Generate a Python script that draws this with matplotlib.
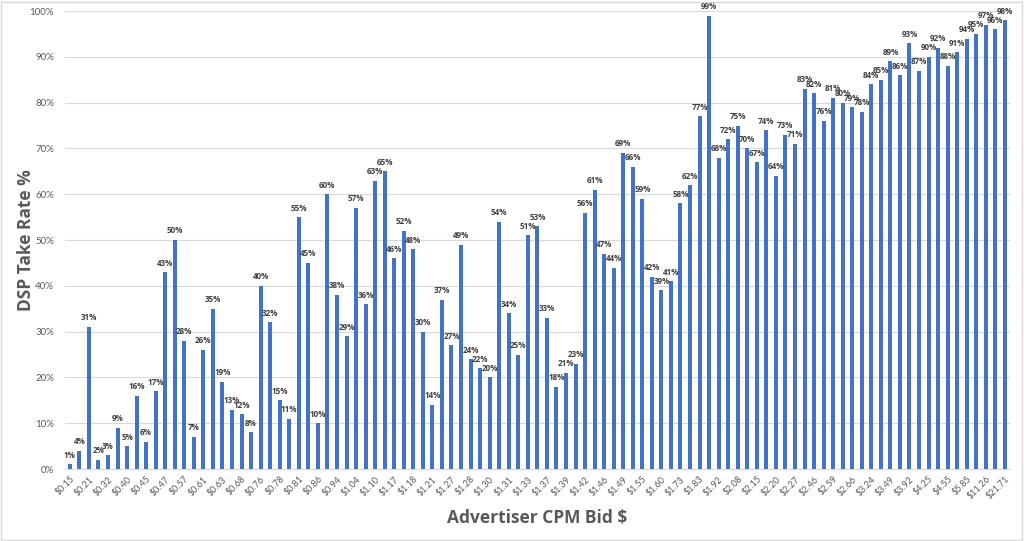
import matplotlib
matplotlib.use("Agg")
import matplotlib.pyplot as plt
from matplotlib.patches import Rectangle

# DSP take rate (%) for each bid bucket, left to right
take_rate = [1, 4, 31, 2, 3, 9, 5, 16, 6, 17, 43, 50, 28, 7, 26, 35, 19, 13, 12, 8,
             40, 32, 15, 11, 55, 45, 10, 60, 38, 29, 57, 36, 63, 65, 46, 52, 48, 30, 14, 37,
             27, 49, 24, 22, 20, 54, 34, 25, 51, 53, 33, 18, 21, 23, 56, 61, 47, 44, 69, 66,
             59, 42, 39, 41, 58, 62, 77, 99, 68, 72, 75, 70, 67, 74, 64, 73, 71, 83, 82, 76,
             81, 80, 79, 78, 84, 85, 89, 86, 93, 87, 90, 92, 88, 91, 94, 95, 97, 96, 98]

# only every other bid is labelled on the axis
bid_labels = ["$0.15", "$0.21", "$0.32", "$0.40", "$0.45", "$0.47", "$0.57", "$0.61", "$0.63", "$0.68",
              "$0.76", "$0.78", "$0.81", "$0.86", "$0.94", "$1.04", "$1.10", "$1.17", "$1.18", "$1.21",
              "$1.27", "$1.28", "$1.30", "$1.31", "$1.33", "$1.37", "$1.39", "$1.42", "$1.46", "$1.49",
              "$1.55", "$1.60", "$1.73", "$1.83", "$1.92", "$2.08", "$2.15", "$2.20", "$2.27", "$2.46",
              "$2.59", "$2.66", "$3.24", "$3.49", "$3.92", "$4.25", "$4.55", "$5.85", "$11.26", "$21.71"]

plt.rcParams['font.family'] = ['Lato', 'DejaVu Sans']
bold_font = ['Open Sans', 'DejaVu Sans']

fig = plt.figure(figsize=(10.24, 5.41), dpi=100)
fig.patches.append(Rectangle((0.001, 0.002), 0.997, 0.995, transform=fig.transFigure,
                             fill=False, edgecolor='#d9d9d9', linewidth=1))
ax = fig.add_axes([0.0635, 0.133, 0.9225, 0.8466])

x = list(range(len(take_rate)))
ax.bar(x, take_rate, width=0.42, color='#4472C4', zorder=3)

for xi, v in zip(x, take_rate):
    ax.text(xi, v + 1.0, f"{v}%", ha='center', va='bottom', fontsize=5.8,
            fontweight='bold', family=bold_font, color='#404040', zorder=4)

ax.set_xlim(-0.5, len(take_rate) - 0.5)
ax.set_ylim(0, 100)
ax.set_yticks(range(0, 101, 10))
ax.set_yticklabels([f"{t}%" for t in range(0, 101, 10)], fontsize=7, color='#595959')
ax.set_xticks(x[::2])
ax.set_xticklabels(bid_labels, rotation=45, ha='right', rotation_mode='anchor',
                   fontsize=6.5, color='#595959')
ax.tick_params(axis='both', length=0)
ax.tick_params(axis='y', pad=8)
ax.tick_params(axis='x', pad=4)

ax.grid(axis='y', color='#d9d9d9', linewidth=0.8, zorder=0)
for s in ['top', 'right', 'left']:
    ax.spines[s].set_visible(False)
ax.spines['bottom'].set_color('#d9d9d9')

ax.set_ylabel("DSP Take Rate %", fontsize=12.5, fontweight='bold', family=bold_font, color='#595959')
ax.yaxis.set_label_coords(-0.032, 0.5)
ax.set_xlabel("Advertiser CPM Bid $", fontsize=12.5, fontweight='bold', family=bold_font, color='#595959')
ax.xaxis.set_label_coords(0.5, -0.088)

fig.savefig("out.png", dpi=100)
